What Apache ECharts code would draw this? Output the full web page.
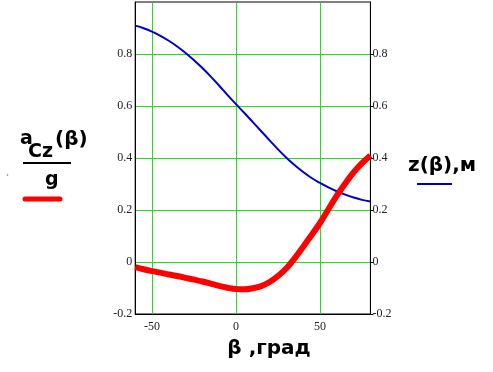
<!DOCTYPE html>
<html>
<head>
<meta charset="utf-8">
<script src="https://cdn.jsdelivr.net/npm/echarts@6/dist/echarts.min.js"></script>
<style>
html,body{margin:0;padding:0;background:#fff;}
#chart{width:493px;height:372px;}
</style>
</head>
<body>
<div id="chart"></div>
<script>
// β, degrees
const betas = [-60,-55,-50,-45,-40,-35,-30,-25,-20,-15,-10,-5,0,5,10,15,20,25,30,35,40,45,50,55,60,65,70,75,80];
// z(β), m  (blue)
const zValues = [0.909,0.899,0.886,0.870,0.851,0.829,0.804,0.776,0.746,0.713,0.678,0.642,0.607,0.573,0.538,0.503,0.468,0.433,0.401,0.372,0.346,0.323,0.304,0.287,0.272,0.259,0.248,0.239,0.233];
// a_Cz(β)/g  (red)
const aValues = [-0.020,-0.028,-0.035,-0.041,-0.048,-0.054,-0.061,-0.068,-0.075,-0.083,-0.092,-0.099,-0.104,-0.105,-0.101,-0.093,-0.077,-0.054,-0.024,0.015,0.059,0.104,0.150,0.203,0.255,0.302,0.345,0.380,0.410];
const xTicks = [-50, 0, 50];
const xName = 'β ,град';
const leftName = ['a', 'Cz', '(β)', 'g'];
const rightName = 'z(β),м';

const chart = echarts.init(document.getElementById('chart'), null, {renderer: 'canvas'});
const labelFont = {fontFamily: 'Liberation Serif', fontSize: 12, color: '#222'};
const gridGreen = '#22dd22';

chart.setOption({
  animation: false,
  backgroundColor: '#fff',
  grid: {left: 135.2, right: 122.6, top: 2, bottom: 58, containLabel: false,
         show: true, borderColor: '#000', borderWidth: 1},
  xAxis: {
    type: 'value', min: -60, max: 80,
    axisLine: {show: true, onZero: false, lineStyle: {color: '#000', width: 1}},
    axisTick: {show: false, customValues: xTicks},
    axisLabel: Object.assign({customValues: xTicks, margin: 7}, labelFont),
    splitLine: {show: true, lineStyle: {color: gridGreen, width: 1}}
  },
  yAxis: [
    {
      type: 'value', min: -0.2, max: 1.0, interval: 0.2, position: 'left',
      axisLine: {show: true, onZero: false, lineStyle: {color: '#000'}},
      axisTick: {show: false},
      axisLabel: Object.assign({margin: 3, showMaxLabel: false,
        formatter: v => (Math.round(v*10)/10).toString()}, labelFont),
      splitLine: {show: true, showMinLine: false, showMaxLine: false,
        lineStyle: {color: gridGreen, width: 1}}
    },
    {
      type: 'value', min: -0.2, max: 1.0, interval: 0.2, position: 'right',
      axisLine: {show: true, onZero: false, lineStyle: {color: '#000'}},
      axisTick: {show: true, inside: false, length: 3, lineStyle: {color: '#000'}},
      axisLabel: Object.assign({margin: 2, showMaxLabel: false,
        formatter: v => (Math.round(v*10)/10).toString()}, labelFont),
      splitLine: {show: false}
    }
  ],
  series: [
    {
      type: 'line', yAxisIndex: 0, smooth: 0.4, showSymbol: false,
      lineStyle: {color: '#0000c8', width: 2},
      data: betas.map((b, i) => [b, zValues[i]]), z: 3
    },
    {
      type: 'line', yAxisIndex: 0, smooth: 0.4, showSymbol: false,
      lineStyle: {color: '#ff0000', width: 6},
      data: betas.map((b, i) => [b, aValues[i]]), z: 4
    }
  ],
  graphic: [
    {type: 'text', x: 269, y: 349, style: {text: xName, font: 'bold 20px "DejaVu Sans"', fill: '#000', align: 'center', verticalAlign: 'middle'}},
    {type: 'text', x: 20, y: 139, style: {text: leftName[0], font: 'bold 19px "DejaVu Sans"', fill: '#000', align: 'left', verticalAlign: 'middle'}},
    {type: 'text', x: 28, y: 152, style: {text: leftName[1], font: 'bold 19px "DejaVu Sans"', fill: '#000', align: 'left', verticalAlign: 'middle'}},
    {type: 'text', x: 55, y: 140, style: {text: leftName[2], font: 'bold 20px "DejaVu Sans"', fill: '#000', align: 'left', verticalAlign: 'middle'}},
    {type: 'rect', shape: {x: 23, y: 162, width: 48, height: 2}, style: {fill: '#000'}},
    {type: 'text', x: 45, y: 180, style: {text: leftName[3], font: 'bold 19px "DejaVu Sans"', fill: '#000', align: 'left', verticalAlign: 'middle'}},
    {type: 'line', shape: {x1: 25, y1: 199, x2: 60, y2: 199}, style: {stroke: '#ff0000', lineWidth: 5, lineCap: 'round'}},
    {type: 'text', x: 408, y: 166, style: {text: rightName, font: 'bold 20px "DejaVu Sans"', fill: '#000', align: 'left', verticalAlign: 'middle'}},
    {type: 'line', shape: {x1: 417, y1: 184, x2: 452, y2: 184}, style: {stroke: '#0000b4', lineWidth: 2}},
    {type: 'circle', shape: {cx: 7.5, cy: 175, r: 0.8}, style: {fill: '#777'}}
  ]
});
</script>
</body>
</html>
